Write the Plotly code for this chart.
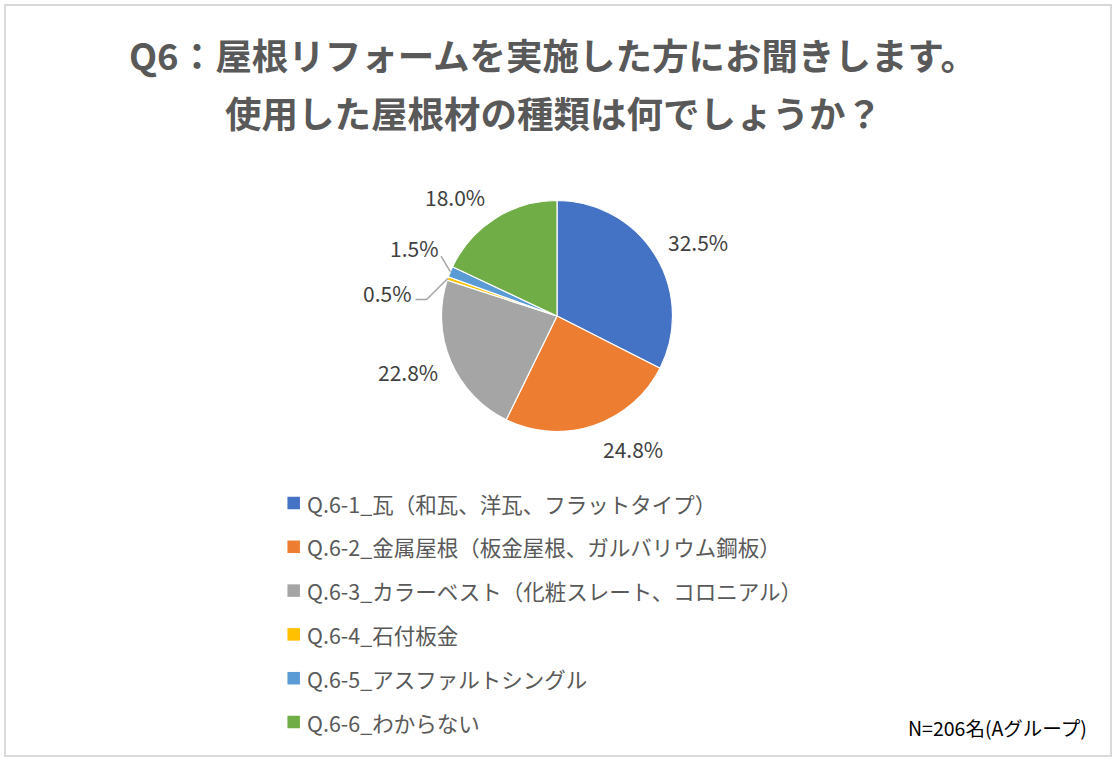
import math
import plotly.graph_objects as go

labels = [
    'Q.6-1_瓦（和瓦、洋瓦、フラットタイプ）',
    'Q.6-2_金属屋根（板金屋根、ガルバリウム鋼板）',
    'Q.6-3_カラーベスト（化粧スレート、コロニアル）',
    'Q.6-4_石付板金',
    'Q.6-5_アスファルトシングル',
    'Q.6-6_わからない',
]
percents = [32.5, 24.8, 22.8, 0.5, 1.5, 18.0]
colors = ['#4472C4', '#ED7D31', '#A5A5A5', '#FFC000', '#5B9BD5', '#70AD47']
title_lines = ['Q6：屋根リフォームを実施した方にお聞きします。', '使用した屋根材の種類は何でしょうか？']
note = 'N=206名(Aグループ)'

W, H = 1119, 763
FONT = 'Noto Sans CJK JP'

# pie geometry in pixels
cx, cy, R = 557, 316, 115.5
# label placement: angle nudge (deg) and radius (in R) per slice
label_dth = [3.8, -11.3, 2.2, -11.4, 2.8, -8.2]
label_r = [1.38, 1.33, 1.38, 1.48, 1.37, 1.36]


def px(x):
    return x / W


def py(y):
    return 1 - y / H


fig = go.Figure(
    go.Pie(
        values=percents,
        labels=labels,
        sort=False,
        direction='clockwise',
        rotation=0,
        marker=dict(colors=colors, line=dict(color='white', width=1.2)),
        textinfo='none',
        hovertemplate='%{label}<br>%{value:.1f}%<extra></extra>',
        domain=dict(x=[px(cx - R), px(cx + R)], y=[py(cy + R), py(cy - R)]),
        showlegend=False,
    )
)

annotations = []
shapes = []

# percent labels
total = sum(percents)
cum = 0
label_pos = []
for i, v in enumerate(percents):
    mid = (cum + v / 2) / total * 360
    cum += v
    th = math.radians(mid + label_dth[i])
    lx = cx + label_r[i] * R * math.sin(th)
    ly = cy - label_r[i] * R * math.cos(th)
    label_pos.append((lx, ly, math.radians(mid)))
    annotations.append(dict(
        x=px(lx), y=py(ly), xref='paper', yref='paper', showarrow=False,
        text=f'{v:.1f}%', font=dict(family=FONT, size=21, color='#404040'),
        xanchor='center', yanchor='middle',
    ))

# leader lines for the two thin slices
for i, pts in [(3, [(39, 6), (28, 6)]), (4, [(27, 8)])]:
    lx, ly, mid = label_pos[i]
    ex = cx + R * math.sin(mid)
    ey = cy - R * math.cos(mid)
    path = f'M {px(ex)},{py(ey)}'
    for dx, dy in pts:
        path += f' L {px(lx + dx)},{py(ly + dy)}'
    shapes.append(dict(type='path', xref='paper', yref='paper', path=path,
                       line=dict(color='#A5A5A5', width=1.5)))

# legend
leg_x, leg_y0, leg_dy, sq = 293.7, 503, 43.8, 12.5
for i, lab in enumerate(labels):
    y = leg_y0 + i * leg_dy
    shapes.append(dict(type='rect', xref='paper', yref='paper',
                       x0=px(leg_x - sq / 2), x1=px(leg_x + sq / 2),
                       y0=py(y + sq / 2), y1=py(y - sq / 2),
                       fillcolor=colors[i], line=dict(width=0)))
    annotations.append(dict(
        x=px(305), y=py(y), xref='paper', yref='paper', showarrow=False,
        text=lab, font=dict(family=FONT, size=21.5, color='#595959'),
        xanchor='left', yanchor='middle',
    ))

# title
for j, t in enumerate(title_lines):
    annotations.append(dict(
        x=px(553), y=py(55 + j * 57), xref='paper', yref='paper', showarrow=False,
        text=f'<b>{t}</b>', font=dict(family=FONT, size=36.5, color='#595959'),
        xanchor='center', yanchor='middle',
    ))

# sample size note
annotations.append(dict(
    x=px(1089), y=py(727), xref='paper', yref='paper', showarrow=False,
    text=note, font=dict(family=FONT, size=19.5, color='#000000'),
    xanchor='right', yanchor='middle',
))

# chart border
shapes.append(dict(type='rect', xref='paper', yref='paper',
                   x0=px(5), x1=px(1111), y0=py(756), y1=py(5),
                   line=dict(color='#D9D9D9', width=2), fillcolor='rgba(0,0,0,0)'))

fig.update_layout(
    width=W, height=H,
    margin=dict(l=0, r=0, t=0, b=0),
    paper_bgcolor='white',
    plot_bgcolor='white',
    annotations=annotations,
    shapes=shapes,
    font=dict(family=FONT),
)

fig.write_html('out.html', config={'displayModeBar': False},
               post_script="document.body.style.margin='0';document.body.style.overflow='hidden';")
